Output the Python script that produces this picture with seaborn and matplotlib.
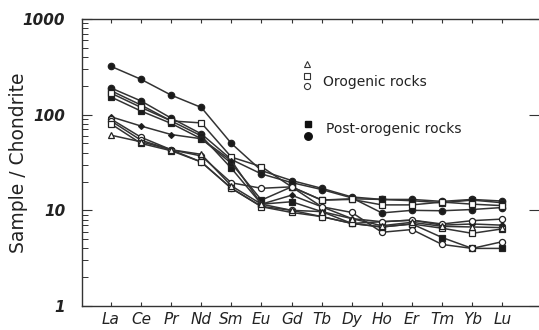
import numpy as np
import pandas as pd
import matplotlib
matplotlib.use("Agg")
import matplotlib.pyplot as plt
import seaborn as sns
from matplotlib.ticker import FixedLocator, FixedFormatter, LogLocator, NullFormatter

sns.set_theme(style="white")
plt.rcParams['font.family'] = ['DejaVu Sans']

elements = ["La", "Ce", "Pr", "Nd", "Sm", "Eu", "Gd", "Tb", "Dy", "Ho", "Er", "Tm", "Yb", "Lu"]

# Post-orogenic rocks
post_circle_1 = [320, 234, 160, 119, 50, 26, 20.5, 17, 13.8, 13, 13, 12.4, 13, 12.5]
post_circle_2 = [190, 139, 92, 63, 34, 24, 19.5, 16.5, 13.5, 9.4, 10, 9.9, 10.2, 10.7]
post_square_1 = [178, 126, 86, 60, 27.5, 11.6, 12.3, 9.7, 7.3, 6.7, 7.2, 5.2, 4.0, 4.0]
post_square_2 = [153, 109, 81, 56, 31, 12.8, 17.6, 12.8, 13.2, 13, 12.6, 12.0, 12.8, 12.0]
# Orogenic rocks
oro_square_1 = [168, 119, 86, 82, 36, 28.6, 17.6, 12.8, 13.0, 11.4, 11.4, 12.2, 11.6, 11.2]
oro_diamond = [95, 76, 62, 56, 33, 11.6, 14.4, 10.9, 8.2, 7.6, 7.9, 7.0, 7.2, 7.0]
oro_circle_1 = [90, 58, 43, 37, 19.4, 17, 17.6, 10.9, 9.5, 5.9, 6.3, 4.4, 4.0, 4.7]
oro_circle_2 = [86, 54, 43, 32, 17, 11, 10, 8.6, 7.3, 7.6, 7.9, 7.2, 7.8, 8.1]
oro_square_2 = [80, 50, 42, 32, 17, 10.9, 9.5, 8.6, 7.3, 6.7, 7.2, 6.5, 5.75, 6.4]
oro_triangle = [61, 52, 43, 38.5, 18, 11.6, 10, 9.7, 8.2, 6.9, 7.5, 6.8, 6.7, 6.6]

series = [
    (post_circle_1, "o", True, 4.6),
    (post_circle_2, "o", True, 4.6),
    (post_square_1, "s", True, 4.4),
    (post_square_2, "s", True, 4.4),
    (oro_square_1, "s", False, 4.4),
    (oro_diamond, "D", True, 3.0),
    (oro_circle_1, "o", False, 4.4),
    (oro_circle_2, "o", False, 4.4),
    (oro_square_2, "s", False, 4.4),
    (oro_triangle, "^", False, 4.6),
]

line_col = "#333333"
fig = plt.figure(figsize=(5.39, 3.30), dpi=100)
ax = fig.add_axes([82/539, 1-306/330, 457/539, 287/330])

xpos = np.arange(len(elements))
for vals, mk, filled, ms in series:
    df = pd.DataFrame({"x": xpos, "y": vals})
    sns.lineplot(data=df, x="x", y="y", ax=ax, color=line_col, lw=1.1,
                 marker=mk, markersize=ms,
                 markerfacecolor="#1a1a1a" if filled else "white",
                 markeredgecolor="#222222", markeredgewidth=0.9, legend=False)

ax.set_yscale("log")
ax.set_ylim(1, 1000)
ax.set_xlim(-0.963, 14.22)
ax.set_xlabel("")
ax.set_ylabel("Sample / Chondrite", fontsize=13.5, color="#222222")
ax.yaxis.set_label_coords(-0.118, 0.5)

ax.xaxis.set_major_locator(FixedLocator(xpos))
ax.xaxis.set_major_formatter(FixedFormatter(elements))
ax.yaxis.set_major_locator(FixedLocator([1, 10, 100, 1000]))
ax.yaxis.set_major_formatter(FixedFormatter(["1", "10", "100", "1000"]))
ax.yaxis.set_minor_locator(LogLocator(base=10, subs=np.arange(2, 10)))
ax.yaxis.set_minor_formatter(NullFormatter())

for lab in ax.get_xticklabels():
    lab.set_fontstyle("italic")
for lab in ax.get_yticklabels():
    lab.set_fontstyle("italic")
    lab.set_fontweight("bold")

ax.tick_params(axis="x", which="major", direction="in", length=3, width=0.8,
               top=True, bottom=True, labelsize=11, pad=4, colors="#333333",
               labelcolor="#222222")
ax.tick_params(axis="y", which="major", direction="in", length=7, width=0.8,
               left=True, right=True, labelsize=11, pad=12, colors="#333333",
               labelcolor="#222222")
ax.tick_params(axis="y", which="minor", direction="in", length=4, width=0.7,
               left=True, right=False, colors="#333333")

for side in ["left", "top", "bottom"]:
    ax.spines[side].set_visible(True)
    ax.spines[side].set_color("#333333")
    ax.spines[side].set_linewidth(1.0)
ax.spines["right"].set_visible(False)

# legend drawn inside the plot area
tr = ax.transAxes
ax.plot([0.492], [0.842], marker="^", ms=4.4, mfc="white", mec="#333333", mew=0.8, transform=tr, clip_on=False)
ax.plot([0.492], [0.803], marker="s", ms=4.2, mfc="white", mec="#333333", mew=0.8, transform=tr, clip_on=False)
ax.plot([0.492], [0.767], marker="o", ms=4.4, mfc="white", mec="#333333", mew=0.8, transform=tr, clip_on=False)
ax.text(0.527, 0.782, "Orogenic rocks", transform=tr, fontsize=10, va="center", ha="left", color="#222222")
ax.plot([0.495], [0.634], marker="s", ms=5, mfc="#111111", mec="#111111", transform=tr, clip_on=False)
ax.plot([0.495], [0.592], marker="o", ms=5.4, mfc="#111111", mec="#111111", transform=tr, clip_on=False)
ax.text(0.534, 0.617, "Post-orogenic rocks", transform=tr, fontsize=10, va="center", ha="left", color="#222222")

fig.savefig("out.png", dpi=100)
